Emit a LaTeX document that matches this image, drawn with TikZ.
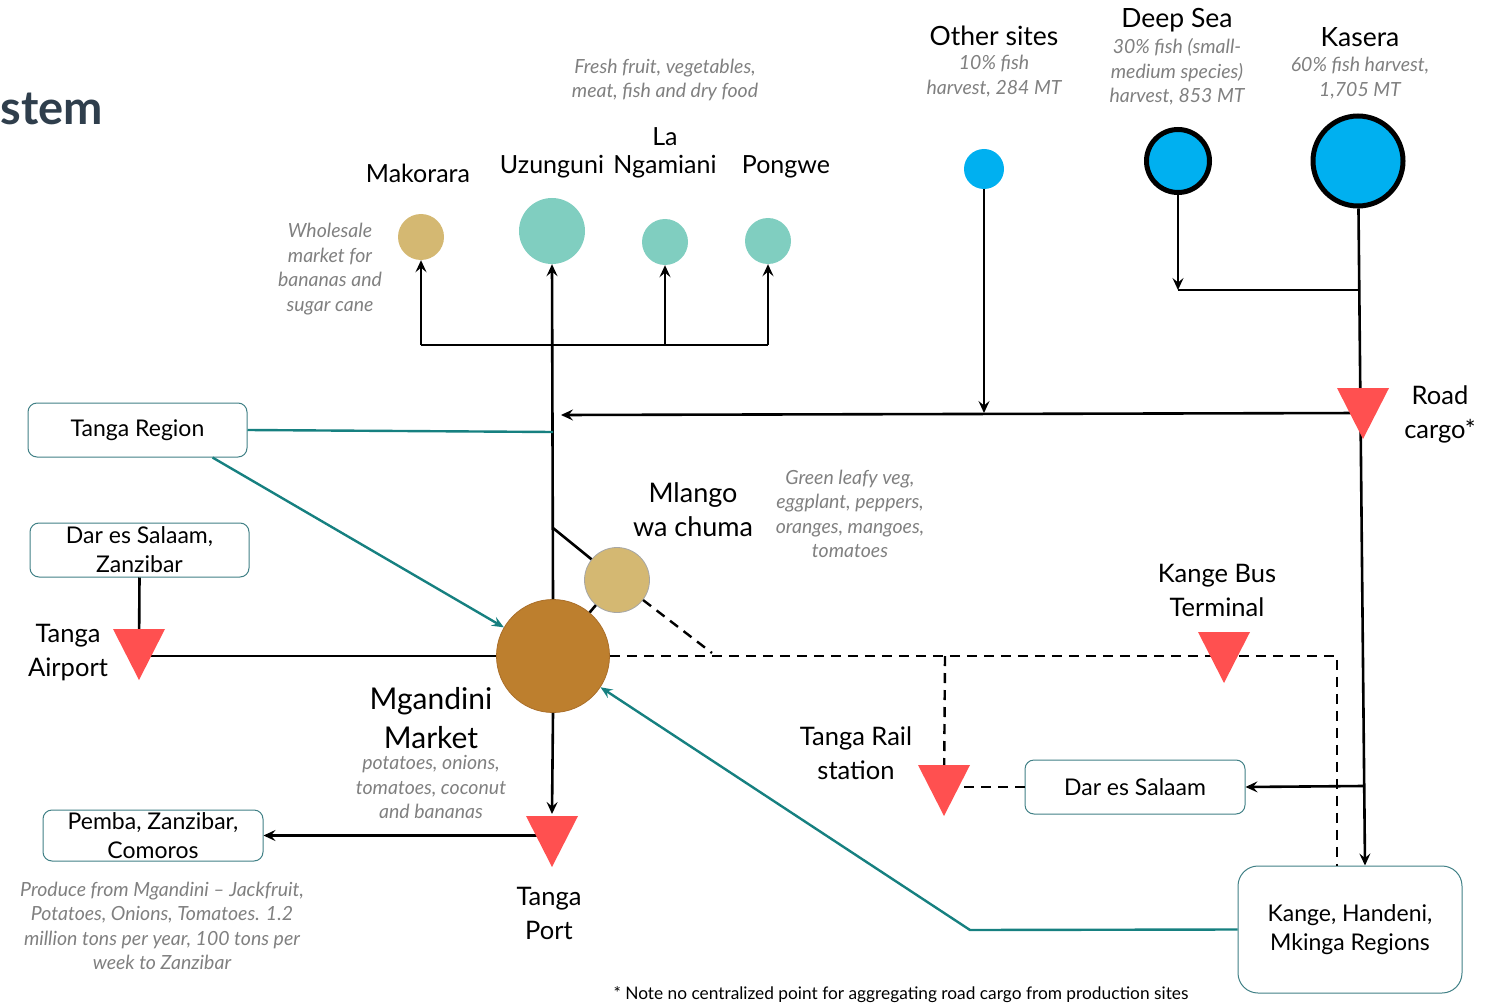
\documentclass[tikz,border=0pt]{standalone}
\usepackage{fontspec}
\setmainfont{Lato}
\usetikzlibrary{arrows.meta,calc}

\definecolor{tealline}{RGB}{22,128,128}
\definecolor{boxline}{RGB}{64,128,134}
\definecolor{tanfill}{RGB}{212,184,114}
\definecolor{mintfill}{RGB}{128,206,192}
\definecolor{skyfill}{RGB}{0,176,240}
\definecolor{hubfill}{RGB}{189,127,46}
\definecolor{hubedge}{RGB}{170,110,40}
\definecolor{stopred}{RGB}{255,80,80}
\definecolor{notegray}{RGB}{128,128,128}
\definecolor{slate}{RGB}{47,62,76}

% downward-pointing red marker centred on a named coordinate
\newcommand\droptri[1]{%
  \fill[stopred] ($(#1)+(-26,-25)$) -- ($(#1)+(26,-25)$) -- ($(#1)+(0,26)$) -- cycle;}

\tikzset{
  lbl/.style={font=\fontsize{25.5}{34}\selectfont, align=center, inner sep=0pt},
  head/.style={font=\fontsize{26.5}{30}\selectfont, align=center, inner sep=0pt},
  note/.style={font=\fontsize{19.5}{24.5}\selectfont\itshape, text=notegray, align=center, inner sep=0pt},
  place/.style={draw=boxline, line width=1pt, rounded corners=9pt, align=center, inner sep=0pt,
    font=\fontsize{23}{29}\selectfont},
  dot/.style={circle, inner sep=0pt},
  flow/.style={line width=2.6pt, -{Stealth[length=12pt,width=11pt,inset=4.5pt]}},
  link/.style={line width=2.6pt},
  tflow/.style={tealline, line width=2.4pt, -{Stealth[length=12pt,width=10pt,inset=4.5pt]}},
  tlink/.style={tealline, line width=2.4pt},
  dlink/.style={line width=2.4pt, dash pattern=on 10pt off 7pt},
}

\begin{document}
\begin{tikzpicture}[x=1pt,y=-1pt]
\useasboundingbox (0,0) rectangle (1494,1003);

% title fragment
\node[anchor=base east, inner sep=0pt, text=slate, font=\fontsize{47}{50}\selectfont\bfseries] (title) at (103,125) {stem};

% markets
\node[dot, fill=tanfill, minimum size=46pt] (mak) at (421,237) {};
\node[dot, fill=mintfill, minimum size=66pt] (uzun) at (552,231) {};
\node[dot, fill=mintfill, minimum size=46pt] (ngam) at (665,242) {};
\node[dot, fill=mintfill, minimum size=46pt] (pong) at (768,241) {};
\node[dot, fill=hubfill, draw=hubedge, line width=0.8pt, minimum size=113pt] (mgan) at (553,656) {};
\node[dot, fill=tanfill, draw=gray!70, line width=0.8pt, minimum size=65pt] (mlango) at (617,580) {};

% fishing sites
\node[dot, fill=skyfill, minimum size=40pt] (other) at (984,169) {};
\node[dot, fill=skyfill, draw=black, line width=5pt, minimum size=63pt] (deep) at (1178,161) {};
\node[dot, fill=skyfill, draw=black, line width=5pt, minimum size=90pt] (kas) at (1358,161) {};

% destination boxes
\node[place, minimum width=219pt, minimum height=54pt] (treg) at (137.5,430) {Tanga Region};
\node[place, minimum width=219pt, minimum height=54pt] (dzan) at (139.5,550) {Dar es Salaam,\\Zanzibar};
\node[place, minimum width=220pt, minimum height=51pt] (pemba) at (153,835.5) {Pemba, Zanzibar,\\Comoros};
\node[place, minimum width=220pt, minimum height=54pt] (dsm) at (1135,787) {Dar es Salaam};
\node[place, rounded corners=20pt, minimum width=224pt, minimum height=127pt] (kange) at (1350,929.5) {Kange, Handeni,\\Mkinga Regions};

% labels
\node[lbl, font=\fontsize{25}{34}\selectfont] (lmak) at (418,173) {Makorara};
\node[lbl, font=\fontsize{25}{34}\selectfont] (luzun) at (552,167) {Uzunguni};
\node[lbl, font=\fontsize{25}{28}\selectfont] (lngam) at (665,153) {La\\Ngamiani};
\node[lbl, font=\fontsize{25}{34}\selectfont] (lpong) at (786,167) {Pongwe};
\node[note] (nfresh) at (665,80) {Fresh fruit, vegetables,\\meat, fish and dry food};
\node[note] (nwhole) at (330,269) {Wholesale\\market for\\bananas and\\sugar cane};

\node[head] (lother) at (994,36) {Other sites};
\node[note] (nother) at (994,76) {10\% fish\\harvest, 284 MT};
\node[head] (ldeep) at (1177,20) {Deep Sea};
\node[note] (ndeep) at (1177,72) {30\% fish (small-\\medium species)\\harvest, 853 MT};
\node[head] (lkas) at (1360,37) {Kasera};
\node[note] (nkas) at (1360,78) {60\% fish harvest,\\1,705 MT};

\node[lbl] (lroad) at (1440,414) {Road\\cargo*};
\node[lbl, font=\fontsize{27}{34}\selectfont] (lmlango) at (693,510) {Mlango\\wa chuma};
\node[note] (nmlango) at (850,514) {Green leafy veg,\\eggplant, peppers,\\oranges, mangoes,\\tomatoes};
\node[lbl] (lbus) at (1217,590) {Kange Bus\\Terminal};
\node[lbl] (lair) at (68,653) {Tanga\\Airport};
\node[lbl, font=\fontsize{30}{39}\selectfont] (lmgan) at (431,718) {Mgandini\\Market};
\node[note] (nmgan) at (431,787) {potatoes, onions,\\tomatoes, coconut\\and bananas};
\node[lbl] (lrail) at (856,753) {Tanga Rail\\station};
\node[lbl] (lport) at (549,913) {Tanga\\Port};
\node[note] (nprod) at (162,926) {Produce from Mgandini -- Jackfruit,\\Potatoes, Onions, Tomatoes. 1.2\\million tons per year, 100 tons per\\week to Zanzibar};
\node[inner sep=0pt, font=\fontsize{17.3}{20}\selectfont] (foot) at (901,995) {* Note no centralized point for aggregating road cargo from production sites};

% junction and marker coordinates
\coordinate (tj1) at (421,345);
\coordinate (roadin) at (561,415);
\coordinate (kjoin) at (1359,290);
\coordinate (dsmfeed) at (1363,786);
\coordinate (mlbranch) at (553,528);
\coordinate (mljoin) at (712,653);
\coordinate (treghit) at (553,432);
\coordinate (busturn) at (1337,656);
\coordinate (railtap) at (945,656);
\coordinate (kbend) at (970,930);
\coordinate (troad) at (1363,413);
\coordinate (tair) at (139,654);
\coordinate (tport) at (552,841);
\coordinate (train) at (944,790);
\coordinate (tbus) at (1224,657);

% market distribution tree
\draw[link] (tj1) -- (pong |- tj1);
\draw[flow] (tj1) -- (mak);
\draw[flow] (ngam |- tj1) -- (ngam);
\draw[flow] (pong |- tj1) -- (pong);
\draw[flow] (mgan.north) -- (uzun.south);

% fish supply
\draw[flow] (other) -- (other |- troad);
\draw[flow] (deep) -- (deep |- kjoin);
\draw[link] (deep |- kjoin) -- (kjoin);
\draw[flow] (kas) -- ($(kange.north)+(15,0)$);
\draw[flow] (troad) -- (roadin);
\draw[flow] (dsmfeed) -- (dsm.east);

% Mlango wa chuma
\draw[link] (mlbranch) -- (mlango);
\draw[link] (mgan) -- (mlango);
\draw[dlink] (mlango) -- (mljoin);

% rail and bus routes
\draw[dlink] (mgan.east) -- (busturn) -- (busturn |- kange.north);
\draw[dlink] (railtap) -- (train);
\draw[dlink] (dsm.west) -- (dsm.west -| train);

% air and sea
\draw[link] (dzan.south) -- (tair);
\draw[link] (mgan.west) -- (mgan.west -| tair);
\draw[flow] (mgan.south) -- ($(tport)+(0,-27)$);
\draw[flow] (tport |- pemba.east) -- (pemba.east);

% regional inflows
\draw[tlink] (treg.east) -- (treghit);
\draw[tflow] ([xshift=75pt]treg.south) -- (mgan);
\draw[tflow] (kange.west) -- (kbend) -- (mgan);

% transport markers
\droptri{troad}
\droptri{tair}
\droptri{tport}
\droptri{train}
\droptri{tbus}
\end{tikzpicture}
\end{document}
